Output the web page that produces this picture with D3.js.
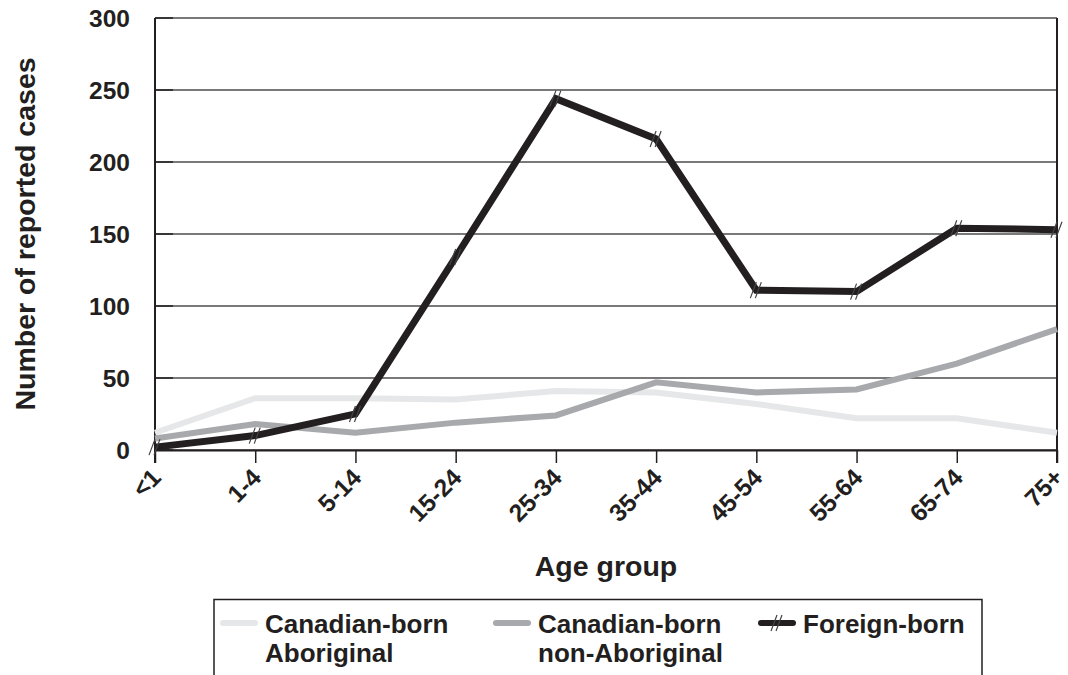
<!DOCTYPE html>
<html>
<head>
<meta charset="utf-8">
<script src="https://cdn.jsdelivr.net/npm/d3@7"></script>
<style>
  html, body { margin: 0; padding: 0; background: #fff; }
  text { font-family: 'Liberation Sans', Arial, Helvetica, sans-serif; font-weight: bold; fill: #231f20; }
</style>
</head>
<body>
<div id="chart"></div>
<script>
const ageGroups = ['<1', '1-4', '5-14', '15-24', '25-34', '35-44', '45-54', '55-64', '65-74', '75+'];
const aboriginal = [12, 36, 36, 35, 41, 40, 32, 22, 22, 12];
const nonAboriginal = [8, 18, 12, 19, 24, 47, 40, 42, 60, 84];
const foreignBorn = [2, 10, 25, 134, 244, 216, 111, 110, 154, 153];
const yTicks = [0, 50, 100, 150, 200, 250, 300];
const seriesNames = [['Canadian-born', 'Aboriginal'], ['Canadian-born', 'non-Aboriginal'], ['Foreign-born']];

const width = 1068;
const height = 675;
const margin = { top: 18, right: 11, bottom: 225, left: 155 };

const series = [
  { name: seriesNames[0], values: aboriginal, color: '#e6e7e8', stroke: 6, marker: false },
  { name: seriesNames[1], values: nonAboriginal, color: '#a7a9ac', stroke: 6, marker: false },
  { name: seriesNames[2], values: foreignBorn, color: '#231f20', stroke: 7, marker: true },
];

const x = d3.scalePoint().domain(ageGroups).range([margin.left, width - margin.right]);
const y = d3.scaleLinear().domain([0, 300]).range([height - margin.bottom, margin.top]);

const svg = d3
  .select('#chart')
  .append('svg')
  .attr('width', width)
  .attr('height', height)
  .attr('viewBox', [0, 0, width, height]);

// grid lines
svg
  .append('g')
  .selectAll('line')
  .data(yTicks)
  .join('line')
  .attr('x1', margin.left)
  .attr('x2', width - margin.right)
  .attr('y1', (d) => y(d))
  .attr('y2', (d) => y(d))
  .attr('stroke', '#4d4d4d')
  .attr('stroke-width', 1.5);

// y axis
const yAxis = svg
  .append('g')
  .attr('transform', `translate(${margin.left},0)`)
  .call(d3.axisLeft(y).tickValues(yTicks).tickSize(0).tickPadding(25));
yAxis.select('.domain').remove();
yAxis.selectAll('text').attr('font-size', 24.5).attr('font-family', null).attr('dy', '0.36em');

// inner tick marks on the y axis
svg
  .append('g')
  .selectAll('line')
  .data(yTicks)
  .join('line')
  .attr('x1', margin.left)
  .attr('x2', margin.left + 18)
  .attr('y1', (d) => y(d))
  .attr('y2', (d) => y(d))
  .attr('stroke', '#231f20')
  .attr('stroke-width', 1.5);

// x axis
const xAxis = svg
  .append('g')
  .attr('transform', `translate(0,${y(0)})`)
  .call(d3.axisBottom(x).tickSize(13).tickSizeOuter(0));
xAxis.select('.domain').attr('stroke', '#231f20').attr('stroke-width', 2);
xAxis.selectAll('.tick line').attr('stroke', '#231f20').attr('stroke-width', 1.5);
xAxis
  .selectAll('text')
  .attr('font-size', 24.5)
  .attr('font-family', null)
  .attr('text-anchor', 'end')
  .attr('dy', null)
  .attr('y', 0)
  .attr('transform', 'translate(7,29) rotate(-45)');

// frame: left and right borders
svg
  .append('line')
  .attr('x1', margin.left)
  .attr('x2', margin.left)
  .attr('y1', margin.top)
  .attr('y2', y(0) + 13)
  .attr('stroke', '#231f20')
  .attr('stroke-width', 2);
svg
  .append('line')
  .attr('x1', width - margin.right)
  .attr('x2', width - margin.right)
  .attr('y1', margin.top)
  .attr('y2', y(0) + 13)
  .attr('stroke', '#231f20')
  .attr('stroke-width', 2);

// lines
const line = d3
  .line()
  .x((d, i) => x(ageGroups[i]))
  .y((d) => y(d));

svg
  .append('g')
  .selectAll('path')
  .data(series)
  .join('path')
  .attr('d', (d) => line(d.values))
  .attr('fill', 'none')
  .attr('stroke', (d) => d.color)
  .attr('stroke-width', (d) => d.stroke);

// "#" style markers on foreign-born
const markerPath = 'M-6,8L0,-8M-1,8L5,-8';
svg
  .append('g')
  .selectAll('path')
  .data(foreignBorn)
  .join('path')
  .attr('transform', (d, i) => `translate(${x(ageGroups[i])},${y(d)})`)
  .attr('d', markerPath)
  .attr('fill', 'none')
  .attr('stroke', '#444')
  .attr('stroke-width', 1.2);

// axis titles
svg
  .append('text')
  .attr('x', 606)
  .attr('y', 576)
  .attr('text-anchor', 'middle')
  .attr('font-size', 28.5)
  .text('Age group');

svg
  .append('text')
  .attr('transform', 'translate(35,234) rotate(-90)')
  .attr('text-anchor', 'middle')
  .attr('font-size', 28.5)
  .text('Number of reported cases');

// legend
const legend = svg.append('g');
legend
  .append('path')
  .attr('d', `M214,${height + 2}V599.5H982V${height + 2}`)
  .attr('fill', 'none')
  .attr('stroke', '#231f20')
  .attr('stroke-width', 1.5);

const legendX = [223, 496, 761];
const item = legend
  .selectAll('g')
  .data(series)
  .join('g')
  .attr('transform', (d, i) => `translate(${legendX[i]},623)`);

item
  .append('line')
  .attr('x1', 0)
  .attr('x2', 32)
  .attr('stroke', (d) => d.color)
  .attr('stroke-width', 6)
  .attr('stroke-linecap', 'round');

item
  .filter((d) => d.marker)
  .append('path')
  .attr('transform', 'translate(16,0)')
  .attr('d', markerPath)
  .attr('fill', 'none')
  .attr('stroke', '#444')
  .attr('stroke-width', 1.2);

item
  .append('text')
  .attr('x', 42)
  .attr('y', 10)
  .attr('font-size', 26)
  .selectAll('tspan')
  .data((d) => d.name)
  .join('tspan')
  .attr('x', 42)
  .attr('dy', (d, i) => (i === 0 ? 0 : 29))
  .text((d) => d);
</script>
</body>
</html>
